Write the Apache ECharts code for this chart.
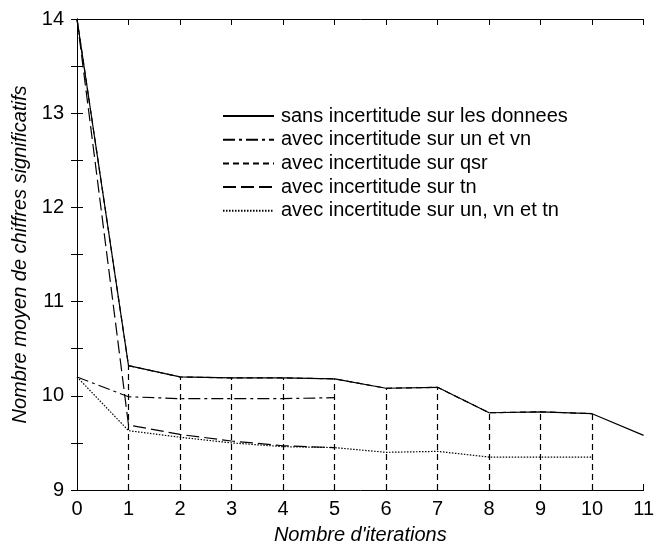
<!DOCTYPE html>
<html><head><meta charset="utf-8">
<script src="https://cdn.jsdelivr.net/npm/echarts@6/dist/echarts.min.js"></script>
<style>html,body{margin:0;padding:0;background:#fff}#c{width:657px;height:550px}</style>
</head><body><div id="c"></div>
<script>
const iterations = [0,1,2,3,4,5,6,7,8,9,10,11];
const sansIncertitude = [14, 10.32, 10.20, 10.19, 10.19, 10.18, 10.08, 10.09, 9.82, 9.83, 9.81, 9.58];
const avecUnVn = [10.20, 9.99, 9.97, 9.97, 9.97, 9.98];
const avecQsr = [14, 10.32, 10.20, 10.19, 10.19, 10.18, 10.08, 10.09, 9.82, 9.83, 9.81];
const avecTn = [14, 9.69, 9.59, 9.52, 9.47, 9.45];
const avecUnVnTn = [10.20, 9.63, 9.56, 9.50, 9.46, 9.45, 9.40, 9.41, 9.35, 9.35, 9.35];
const names = ['sans incertitude sur les donnees','avec incertitude sur un et vn','avec incertitude sur qsr','avec incertitude sur tn','avec incertitude sur un, vn et tn'];
const yMin = 9, yMax = 14;

const pts = arr => arr.map((v,i)=>[iterations[i], v]);
const font = 'Liberation Sans, Arial, Helvetica, sans-serif';
const lw = 1.2;
function mk(name, arr, type, extra){
  return Object.assign({name, type:'line', data: pts(arr), symbol:'none', silent:true,
    lineStyle:{color:'#000', width:lw, type:type}, itemStyle:{color:'#000'}}, extra||{});
}
const drops = avecQsr.slice(1).map((v,i)=>[{coord:[iterations[i+1], yMin]},{coord:[iterations[i+1], v]}]);

const chart = echarts.init(document.getElementById('c'), null, {renderer:'canvas'});
const axisBase = {
  axisLine:{show:true, lineStyle:{color:'#000', width:1}},
  axisTick:{show:true, inside:true, length:6, lineStyle:{color:'#000'}},
  splitLine:{show:false}
};
const intLabel = v => (Math.abs(v - Math.round(v)) < 1e-6 ? String(Math.round(v)) : '');
chart.setOption({
  animation:false,
  backgroundColor:'#fff',
  grid:{left:77, right:8, top:19, bottom:57},
  legend:{orient:'vertical', left:217, top:101, itemWidth:51, itemHeight:14, itemGap:3.7,
    itemStyle:{opacity:0, borderWidth:0},
    textStyle:{fontFamily:font, fontSize:20, lineHeight:20, color:'#000', padding:[0,0,0,2]},
    data:names, selectedMode:false},
  xAxis:[
    Object.assign({type:'value', min:0, max:11, interval:1, position:'bottom',
      name:"Nombre d'iterations", nameLocation:'middle', nameGap:35,
      nameTextStyle:{fontFamily:font, fontSize:20, fontStyle:'italic', color:'#000'},
      axisLabel:{fontFamily:font, fontSize:20, color:'#000', margin:9}}, axisBase),
    Object.assign({type:'value', min:0, max:11, interval:1, position:'top', axisLabel:{show:false}}, axisBase)
  ],
  yAxis:[
    Object.assign({type:'value', min:yMin, max:yMax, interval:0.5, position:'left',
      name:'Nombre moyen de chiffres significatifs', nameLocation:'middle', nameGap:44,
      nameTextStyle:{fontFamily:font, fontSize:20, fontStyle:'italic', color:'#000'},
      axisLabel:{fontFamily:font, fontSize:20, color:'#000', margin:13, formatter:intLabel}}, axisBase),
    Object.assign({type:'value', min:yMin, max:yMax, interval:0.5, position:'right', axisLabel:{show:false}}, axisBase)
  ],
  series:[
    mk(names[0], sansIncertitude, 'solid'),
    mk(names[1], avecUnVn, [12,4,3,4]),
    mk(names[2], avecQsr, [6,4], {markLine:{silent:true, symbol:'none', label:{show:false},
      lineStyle:{color:'#000', width:lw, type:[6,4]}, data:drops}}),
    mk(names[3], avecTn, [13,5]),
    mk(names[4], avecUnVnTn, [1.5,1.5])
  ]
});
</script></body></html>
